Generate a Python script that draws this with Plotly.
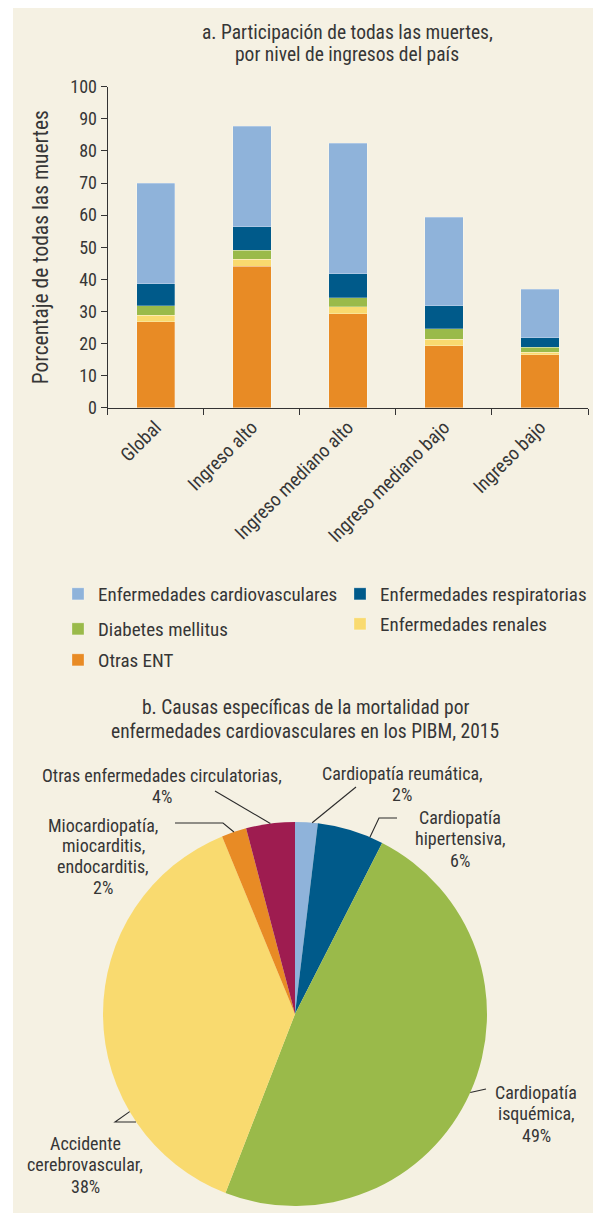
import math
import plotly.graph_objects as go

# page is rendered with an 8px body margin; figure sized to fit the window
OFF = 8
W, H = 601 - OFF, 1215 - OFF
FONT = "Roboto Condensed, Liberation Sans Narrow, sans-serif"
TXT = "#363636"
BG = "#f5f1e3"

# ---------------- data: panel a ----------------
categories = ["Global", "Ingreso alto", "Ingreso mediano alto",
              "Ingreso mediano bajo", "Ingreso bajo"]
otras_ent = [26.7, 44.1, 29.3, 19.3, 16.5]
renales = [2.1, 2.2, 2.1, 2.1, 0.8]
diabetes = [2.9, 2.7, 2.8, 3.2, 1.6]
respiratorias = [6.9, 7.3, 7.6, 7.1, 2.9]
cardiovasculares = [31.3, 31.4, 40.6, 27.7, 15.1]
y_ticks = list(range(0, 101, 10))

# ---------------- data: panel b ----------------
pie_labels = ["Cardiopatía reumática", "Cardiopatía hipertensiva",
              "Cardiopatía isquémica", "Accidente cerebrovascular",
              "Miocardiopatía, miocarditis, endocarditis",
              "Otras enfermedades circulatorias"]
pie_values = [1.9, 5.6, 48.4, 37.9, 2.1, 4.1]
pie_text = [["Cardiopatía reumática,", "2%"],
            ["Cardiopatía", "hipertensiva,", "6%"],
            ["Cardiopatía", "isquémica,", "49%"],
            ["Accidente", "cerebrovascular,", "38%"],
            ["Miocardiopatía,", "miocarditis,", "endocarditis,", "2%"],
            ["Otras enfermedades circulatorias,", "4%"]]

title_a = ["a. Participación de todas las muertes,", "por nivel de ingresos del país"]
title_b = ["b. Causas específicas de la mortalidad por",
           "enfermedades cardiovasculares en los PIBM, 2015"]

C_LBLUE = "#8fb3da"
C_DBLUE = "#005a8a"
C_GREEN = "#9aba4a"
C_YELLOW = "#f9da6f"
C_ORANGE = "#e88b25"
C_CRIMSON = "#9e1c50"


def px(x):
    return (x - OFF) / W


def py(y):
    return 1 - (y - OFF) / H


fig = go.Figure()

# stacking order bottom -> top, with legend slot for each
series = [
    ("Otras ENT", otras_ent, C_ORANGE, "legend5"),
    ("Enfermedades renales", renales, C_YELLOW, "legend4"),
    ("Diabetes mellitus", diabetes, C_GREEN, "legend3"),
    ("Enfermedades respiratorias", respiratorias, C_DBLUE, "legend2"),
    ("Enfermedades cardiovasculares", cardiovasculares, C_LBLUE, "legend"),
]
for name, vals, col, lg in series:
    fig.add_trace(go.Bar(
        x=categories, y=vals, name=name, width=0.4,
        marker=dict(color=col, line=dict(width=0.6, color="rgba(255,255,255,0.45)")),
        legend=lg, xaxis="x", yaxis="y",
    ))

# pie
cx, cy, r = 295, 1014, 192
fig.add_trace(go.Pie(
    labels=pie_labels, values=pie_values, sort=False, direction="clockwise",
    rotation=0, textinfo="none", hoverinfo="label+percent", showlegend=False,
    marker=dict(colors=[C_LBLUE, C_DBLUE, C_GREEN, C_YELLOW, C_ORANGE, C_CRIMSON],
                line=dict(width=0)),
    domain=dict(x=[px(cx - r), px(cx + r)], y=[py(cy + r), py(cy - r)]),
))

shapes = []
annotations = []


def add_lines(lines, x, y0, step, size):
    for k, t in enumerate(lines):
        annotations.append(dict(x=px(x), y=py(y0 + k * step), xref="paper", yref="paper",
                                text=t, showarrow=False, xanchor="center", yanchor="middle",
                                font=dict(family=FONT, size=size, color=TXT)))


# leader lines: anchor on slice edge computed from data
total = sum(pie_values)
anchor_frac = [0.75, 0.8, 0.5, 0.28, 0.5, 0.5]
# label layout (page pixels): text center x, first line y, leader points (outer -> elbow)
label_pos = [
    (402, 773, [(356, 787)]),
    (460, 817, [(397, 818), (379, 818)]),
    (536, 1092, [(486, 1089)]),
    (85, 1143, [(136, 1122), (115, 1122)]),
    (103, 825, [(175, 823), (223, 823)]),
    (162, 775, [(215, 791)]),
]
cum = 0
for i, v in enumerate(pie_values):
    a0 = cum / total * 2 * math.pi
    a1 = (cum + v) / total * 2 * math.pi
    cum += v
    th = a0 + (a1 - a0) * anchor_frac[i]
    ex, ey = cx + r * math.sin(th), cy - r * math.cos(th)
    tx, ty, pts = label_pos[i]
    allp = pts + [(ex, ey)]
    path = "M " + " L ".join(f"{px(x):.5f},{py(y):.5f}" for x, y in allp)
    shapes.append(dict(type="path", path=path, xref="paper", yref="paper",
                       line=dict(color="#2b2b2b", width=1.1)))
    step = 20.8 if len(pie_text[i]) == 4 else 21.7
    add_lines(pie_text[i], tx, ty, step, 18)

# background panel
shapes.insert(0, dict(type="rect", xref="paper", yref="paper", layer="below",
                      x0=px(13), x1=1.02, y0=py(1213), y1=py(8),
                      fillcolor=BG, line=dict(width=0)))

add_lines(title_a, 347, 32, 23, 19.5)
add_lines(title_b, 305, 707, 24, 19.5)

leg_common = dict(orientation="h", xanchor="left", yanchor="middle",
                  bgcolor="rgba(0,0,0,0)",
                  font=dict(family=FONT, size=19, color=TXT),
                  itemclick=False, itemdoubleclick=False)

fig.update_layout(
    width=W, height=H, autosize=False,
    margin=dict(l=0, r=0, t=0, b=0, autoexpand=False),
    paper_bgcolor="white", plot_bgcolor="rgba(0,0,0,0)",
    barmode="stack",
    font=dict(family=FONT, size=18, color=TXT),
    xaxis=dict(domain=[px(107.7), px(588)], range=[-0.5, 4.5],
               showline=True, linecolor="#333", linewidth=1.2,
               ticks="outside", tickson="boundaries", ticklen=6, tickcolor="#333",
               tickangle=-45, tickfont=dict(family=FONT, size=19, color=TXT),
               showgrid=False, zeroline=False, anchor="y", fixedrange=True,
               automargin=False),
    yaxis=dict(domain=[py(407.7), py(86.7)], range=[0, 100], tickvals=y_ticks,
               showline=True, linecolor="#333", linewidth=1.2,
               ticks="outside", ticklen=6, tickcolor="#333",
               tickfont=dict(family=FONT, size=18, color=TXT),
               showgrid=False, zeroline=False, anchor="x", fixedrange=True,
               automargin=False,
               title=dict(text="Porcentaje de todas las muertes", standoff=15,
                          font=dict(family=FONT, size=21.5, color=TXT))),
    legend=dict(x=px(58), y=py(594), **leg_common),
    legend2=dict(x=px(340), y=py(594), **leg_common),
    legend3=dict(x=px(58), y=py(629), **leg_common),
    legend4=dict(x=px(340), y=py(624), **leg_common),
    legend5=dict(x=px(58), y=py(660), **leg_common),
    shapes=shapes, annotations=annotations,
)

fig.write_html("out.html")
